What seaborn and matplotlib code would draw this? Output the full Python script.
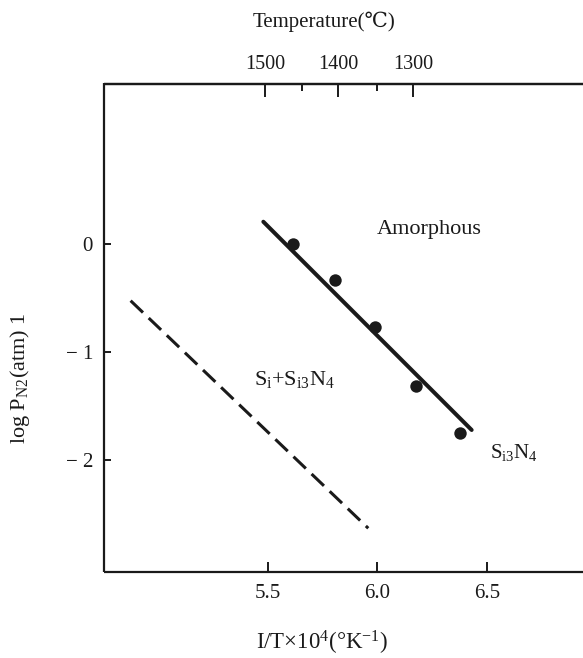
import matplotlib
matplotlib.use("Agg")
import pandas as pd
import seaborn as sns
from matplotlib import pyplot as plt

# measured points (1/T x 10^4, log P_N2)
inv_t = [5.617, 5.807, 5.990, 6.179, 6.378]
log_p = [0.0, -0.333, -0.766, -1.315, -1.753]

# fitted solid line (amorphous / Si3N4 boundary)
fit_x = [5.480, 6.431]
fit_y = [0.206, -1.722]

# dashed line (Si + Si3N4 boundary)
dash_x = [4.874, 5.959]
dash_y = [-0.525, -2.632]

bottom_ticks = [5.5, 6.0, 6.5]
bottom_labels = ["5.5", "6.0", "6.5"]
left_ticks = [-2, -1, 0]
left_labels = ["\u2212 2", "\u2212 1", "0"]

# upper temperature scale as printed (positions in 1/T x 10^4)
temp_major = [5.488, 5.823, 6.165]
temp_labels = ["1500", "1400", "1300"]
temp_minor = [5.658, 5.998]

sns.set_style("ticks")
plt.rcParams["font.family"] = ["Liberation Serif", "DejaVu Serif", "DejaVu Sans"]
plt.rcParams["mathtext.fontset"] = "custom"
plt.rcParams["mathtext.rm"] = "Liberation Serif"
plt.rcParams["mathtext.it"] = "Liberation Serif:italic"

ink = "#1a1a1a"

fig = plt.figure(figsize=(5.83, 6.58), dpi=100)
W, H = 583, 658
ax = fig.add_axes([104 / W, (H - 572) / H, (600 - 104) / W, (572 - 83.5) / H])

df_pts = pd.DataFrame({"x": inv_t, "y": log_p})
df_fit = pd.DataFrame({"x": fit_x, "y": fit_y})
df_dash = pd.DataFrame({"x": dash_x, "y": dash_y})

sns.lineplot(data=df_fit, x="x", y="y", ax=ax, color=ink, linewidth=2.9,
             sort=False, estimator=None, legend=False)
sns.lineplot(data=df_dash, x="x", y="y", ax=ax, color=ink, linewidth=2.2,
             linestyle=(0, (5.6, 2.6)), sort=False, estimator=None, legend=False)
sns.scatterplot(data=df_pts, x="x", y="y", ax=ax, color=ink, s=80,
                edgecolor=ink, linewidth=0, legend=False, zorder=5)

ax.set_xlim(4.7525, 7.017)
ax.set_ylim(-3.037, 1.486)

ax.set_xticks(bottom_ticks)
ax.set_xticklabels(bottom_labels)
ax.set_yticks(left_ticks)
ax.set_yticklabels(left_labels)
ax.tick_params(axis="x", direction="in", length=7, width=1.4, color=ink,
               labelsize=15, pad=9, labelcolor=ink)
ax.tick_params(axis="y", direction="in", length=5, width=1.4, color=ink,
               labelsize=15, pad=8, labelcolor=ink)
ax.set_xlabel("")
ax.set_ylabel("")

for side in ["left", "bottom", "top"]:
    ax.spines[side].set_linewidth(1.6)
    ax.spines[side].set_color(ink)
    ax.spines[side].set_capstyle("butt")
ax.spines["right"].set_visible(False)

ax2 = ax.twiny()
ax2.set_xlim(ax.get_xlim())
ax2.set_xticks(temp_major)
ax2.set_xticklabels(temp_labels)
ax2.set_xticks(temp_minor, minor=True)
ax2.tick_params(axis="x", which="major", direction="in", length=9, width=1.4,
                color=ink, labelsize=14.5, pad=7, labelcolor=ink)
ax2.tick_params(axis="x", which="minor", direction="in", length=5, width=1.4,
                color=ink)
for side in ["left", "bottom", "right"]:
    ax2.spines[side].set_visible(False)
ax2.spines["top"].set_linewidth(1.6)
ax2.spines["top"].set_color(ink)
ax2.spines["top"].set_capstyle("butt")

ax.text(6.237, 0.13, "Amorphous", fontsize=16, color=ink, ha="center", va="center")
ax.text(5.621, -1.259, r"S$_\mathregular{i}$+S$_\mathregular{i3}$N$_\mathregular{4}$",
        fontsize=16, color=ink, ha="center", va="center")
ax.text(6.516, -1.926, r"S$_\mathregular{i3}$N$_\mathregular{4}$",
        fontsize=15, color=ink, ha="left", va="center")

fig.text(324 / W, 1 - 22 / H, "Temperature(\u2103)", fontsize=15, color=ink,
         ha="center", va="center")
fig.text(322 / W, 1 - 643 / H,
         r"I/T$\times$10$^\mathregular{4}$(°K$^\mathregular{-1}$)",
         fontsize=16.5, color=ink, ha="center", va="center")
fig.text(20 / W, 1 - 378 / H, r"log P$_\mathregular{N2}$(atm) 1", fontsize=16,
         color=ink, ha="center", va="center", rotation=90)

fig.savefig("out.png", dpi=100, facecolor="white")
